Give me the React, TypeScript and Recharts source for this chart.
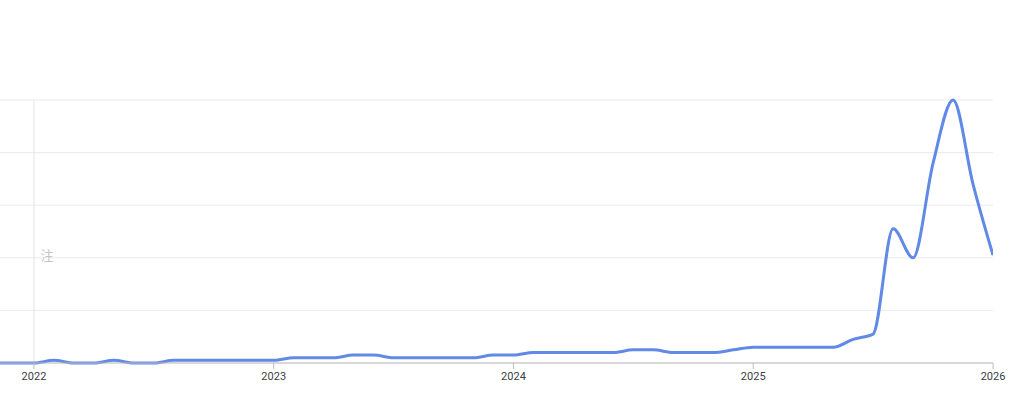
import React from "react";
import {
  LineChart,
  Line,
  XAxis,
  YAxis,
  CartesianGrid,
  ReferenceLine,
} from "recharts";

// monthly points, Nov 2021 .. Jan 2026
const months = [
  "2021-11", "2021-12",
  "2022-01", "2022-02", "2022-03", "2022-04", "2022-05", "2022-06",
  "2022-07", "2022-08", "2022-09", "2022-10", "2022-11", "2022-12",
  "2023-01", "2023-02", "2023-03", "2023-04", "2023-05", "2023-06",
  "2023-07", "2023-08", "2023-09", "2023-10", "2023-11", "2023-12",
  "2024-01", "2024-02", "2024-03", "2024-04", "2024-05", "2024-06",
  "2024-07", "2024-08", "2024-09", "2024-10", "2024-11", "2024-12",
  "2025-01", "2025-02", "2025-03", "2025-04", "2025-05", "2025-06",
  "2025-07", "2025-08", "2025-09", "2025-10", "2025-11", "2025-12",
  "2026-01",
];

const interest = [
  0, 0,
  0, 1, 0, 0, 1, 0,
  0, 1, 1, 1, 1, 1,
  1, 2, 2, 2, 3, 3,
  2, 2, 2, 2, 2, 3,
  3, 4, 4, 4, 4, 4,
  5, 5, 4, 4, 4, 5,
  6, 6, 6, 6, 6, 9,
  11, 51, 40, 76, 100, 68,
  41,
];

const yearTicks = ["2022", "2023", "2024", "2025", "2026"];
const valueTicks = [0, 20, 40, 60, 80, 100];
const noteText = "注";

// months counted from Jan 2022
const toIndex = (m: string) => {
  const [y, mo] = m.split("-").map(Number);
  return (y - 2022) * 12 + (mo - 1);
};

const data = months.map((m, i) => ({ t: toIndex(m), v: interest[i] }));
const tickPos = yearTicks.map((y) => toIndex(`${y}-01`));

const NoteLabel = (props: any) => {
  const vb = props.viewBox || {};
  return (
    <text
      x={vb.x + 13}
      y={vb.y + vb.height * 0.595}
      fill="#c4c4c4"
      fontSize={13}
      fontFamily="'Noto Sans CJK SC', sans-serif"
      textAnchor="middle"
      dominantBaseline="middle"
    >
      {noteText}
    </text>
  );
};

export default function App() {
  return (
    <div
      style={{
        position: "absolute",
        left: 0,
        top: 0,
        width: 1024,
        height: 395,
        background: "#fff",
      }}
    >
      <LineChart
        width={1024}
        height={395}
        data={data}
        margin={{ top: 100, right: 31, bottom: 2, left: 0 }}
      >
        <CartesianGrid vertical={false} stroke="#ebebeb" strokeWidth={1} />
        <XAxis
          type="number"
          dataKey="t"
          domain={[-1.7, 48]}
          allowDataOverflow
          ticks={tickPos}
          tickFormatter={(v: number) => String(2022 + Math.round(v / 12))}
          height={30}
          axisLine={{ stroke: "#bdbdbd" }}
          tickLine={{ stroke: "#bdbdbd" }}
          tickSize={6}
          tickMargin={3}
          tick={{ fill: "#3c4043", fontSize: 11, fontFamily: "Roboto, Arial, sans-serif" }}
        />
        <YAxis hide domain={[0, 100]} ticks={valueTicks} />
        <ReferenceLine x={0} stroke="#e4e4e4" strokeWidth={1} label={<NoteLabel />} />
        <Line
          type="monotone"
          dataKey="v"
          stroke="#6189e6"
          strokeWidth={3}
          dot={false}
          isAnimationActive={false}
        />
      </LineChart>
    </div>
  );
}
